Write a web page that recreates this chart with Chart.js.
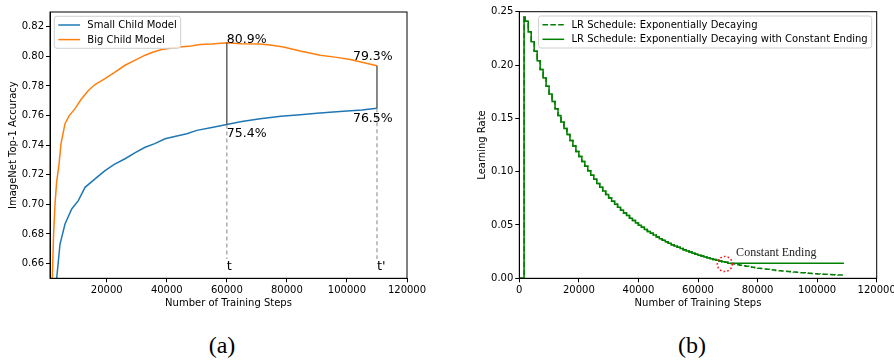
<!DOCTYPE html>
<html><head><meta charset="utf-8">
<script src="https://cdn.jsdelivr.net/npm/chart.js@4/dist/chart.umd.min.js"></script>
<style>
html,body{margin:0;padding:0;background:#fff;}
body{width:894px;height:361px;overflow:hidden;position:relative;}
#c1{position:absolute;left:0;top:0;}
#c2{position:absolute;left:450px;top:0;}
.cap{position:absolute;font-family:"Liberation Serif",serif;font-size:24px;line-height:24px;top:333px;transform:translateX(-50%);color:#000;}
</style></head><body>
<canvas id="c1" width="447" height="313"></canvas>
<canvas id="c2" width="460" height="313"></canvas>
<div class="cap" style="left:222px">(a)</div>
<div class="cap" style="left:692px">(b)</div>
<script>
// ---------- Panel (a) data ----------
const smallSteps = [2800,3330,4430,6100,8330,10530,12770,16100,19430,22500,26100,29500,32770,36000,39430,43000,46670,50000,55000,60000,65000,71100,78000,84430,90000,95430,100000,105000,110000];
const smallAcc   = [0.600,0.650,0.673,0.6867,0.6969,0.7025,0.7115,0.7172,0.7228,0.727,0.7308,0.735,0.7386,0.741,0.7443,0.746,0.7477,0.750,0.752,0.754,0.756,0.7579,0.7595,0.7606,0.7615,0.7624,0.763,0.7638,0.765];
const bigSteps = [1500,1870,2300,2770,3300,4100,4770,6100,7500,9430,11500,13870,16100,19430,22500,26100,29000,32770,35500,38330,41000,44430,48000,51100,55000,60000,65000,71100,75000,78870,84430,91100,96000,101100,105000,110000];
const bigAcc   = [0.600,0.650,0.680,0.700,0.715,0.727,0.741,0.7545,0.760,0.7647,0.771,0.777,0.781,0.785,0.789,0.794,0.797,0.8008,0.803,0.8047,0.8055,0.8064,0.807,0.808,0.8083,0.8092,0.8085,0.8083,0.8075,0.8064,0.8037,0.8008,0.7995,0.7979,0.796,0.7936];
const markSteps = [60000, 110000];
const markBig = [0.8092, 0.7936];
const markSmall = [0.754, 0.765];
const markBigText = ['80.9%', '79.3%'];
const markSmallText = ['75.4%', '76.5%'];
const markNames = ['t', "t'"];
const xTicksA = [20000, 40000, 60000, 80000, 100000, 120000];
const yTicksA = [0.66, 0.68, 0.70, 0.72, 0.74, 0.76, 0.78, 0.80, 0.82];

// ---------- Panel (b) data ----------
const lrSteps = [0,1600,2000,3000,4000,5000,6000,7000,8000,9000,10000,11000,12000,13000,14000,15000,16000,17000,18000,19000,20000,21000,22000,23000,24000,25000,26000,27000,28000,29000,30000,31000,32000,33000,34000,35000,36000,37000,38000,39000,40000,41000,42000,43000,44000,45000,46000,47000,48000,49000,50000,51000,52000,53000,54000,55000,56000,57000,58000,59000,60000,61000,62000,63000,64000,65000,66000,67000,68000,69000,70000,71000,72000,73000,74000,75000,76000,77000,78000,79000,80000,81000,82000,83000,84000,85000,86000,87000,88000,89000,90000,91000,92000,93000,94000,95000,96000,97000,98000,99000,100000,101000,102000,103000,104000,105000,106000,107000,108000,109000];
const lrExp = [0,0.245,0.2410,0.2312,0.2218,0.2128,0.2041,0.1958,0.1879,0.1802,0.1729,0.1659,0.1591,0.1527,0.1465,0.1405,0.1348,0.1293,0.1241,0.1190,0.1142,0.1095,0.1051,0.1008,0.0967,0.0928,0.0890,0.0854,0.0819,0.0786,0.0754,0.0723,0.0694,0.0666,0.0639,0.0613,0.0588,0.0564,0.0541,0.0519,0.0498,0.0478,0.0458,0.0440,0.0422,0.0405,0.0388,0.0372,0.0357,0.0343,0.0329,0.0315,0.0303,0.0290,0.0279,0.0267,0.0256,0.0246,0.0236,0.0226,0.0217,0.0208,0.0200,0.0192,0.0184,0.0176,0.0169,0.0162,0.0156,0.0150,0.0144,0.0138,0.0133,0.0127,0.0122,0.0117,0.0112,0.0108,0.0103,0.0099,0.0095,0.0091,0.0088,0.0084,0.0081,0.0077,0.0074,0.0071,0.0068,0.0066,0.0063,0.0060,0.0058,0.0056,0.0053,0.0051,0.0049,0.0047,0.0045,0.0043,0.0041,0.0040,0.0038,0.0037,0.0035,0.0034,0.0032,0.0031,0.0030,0.0029];
const constEndStep = 70000;
const constEndLR = 0.0140;
const xTicksB = [0, 20000, 40000, 60000, 80000, 100000, 120000];
const yTicksB = [0.00, 0.05, 0.10, 0.15, 0.20, 0.25];

const seriesNamesA = ['Small Child Model', 'Big Child Model'];
const seriesNamesB = ['LR Schedule: Exponentially Decaying', 'LR Schedule: Exponentially Decaying with Constant Ending'];

// ---------- helpers ----------
const FONT = '"DejaVu Sans", sans-serif';
function axis(min, max, ticksArr, fmt, title, fitFn) {
  return {
    type: 'linear', min, max,
    afterBuildTicks: s => { s.ticks = ticksArr.map(v => ({value: v})); },
    afterFit: fitFn,
    ticks: {callback: fmt, color: '#000', font: {family: FONT, size: 10}, padding: 2, maxRotation: 0, autoSkip: false},
    grid: {drawOnChartArea: false, drawTicks: true, tickLength: 4, color: '#000', lineWidth: 1},
    border: {display: true, color: '#000', width: 1},
    title: {display: true, text: title, color: '#000', font: {family: FONT, size: 10}, padding: {top: 4, bottom: 4}}
  };
}
function drawFrame(chart) {
  const {ctx, chartArea: a} = chart;
  ctx.save(); ctx.strokeStyle = '#000'; ctx.lineWidth = 1;
  ctx.strokeRect(a.left, a.top, a.right - a.left, a.bottom - a.top);
  ctx.restore();
}
function drawLegend(chart, names, styles, anchor) {
  const {ctx, chartArea: a} = chart;
  ctx.save();
  ctx.font = '10px ' + FONT;
  const tw = Math.max(...names.map(n => ctx.measureText(n).width));
  const w = 4 + 21.7 + 7.3 + tw + 4, h = 32;
  const x = anchor === 'left' ? a.left + 4.3 : a.right - 5 - w;
  const y = a.top + 4.3;
  ctx.beginPath();
  ctx.roundRect(x, y, w, h, 2.5);
  ctx.fillStyle = 'rgba(255,255,255,0.8)'; ctx.fill();
  ctx.strokeStyle = '#d0d0d0'; ctx.lineWidth = 1; ctx.stroke();
  names.forEach((n, i) => {
    const cy = y + 8.7 + i * 14.6;
    ctx.beginPath();
    ctx.setLineDash(styles[i].dash || []);
    ctx.strokeStyle = styles[i].color; ctx.lineWidth = 1.5;
    ctx.moveTo(x + 4, cy); ctx.lineTo(x + 25.7, cy); ctx.stroke();
    ctx.setLineDash([]);
    ctx.fillStyle = '#000'; ctx.textBaseline = 'middle'; ctx.textAlign = 'left';
    ctx.fillText(n, x + 33, cy + 0.5);
  });
  ctx.restore();
}

// ---------- Chart (a) ----------
const annA = {
  topLabel: [{x: 60000, y: 0.809, align: 'left'}, {x: 102000, y: 0.7975, align: 'left'}],
  botLabel: [{x: 60000, y: 0.7454, align: 'left'}, {x: 102000, y: 0.7554, align: 'left'}],
  dashBottom: 0.663,
  nameY: 0.6555
};
const pluginA = {
  id: 'annA',
  afterDatasetsDraw(chart) {
    const {ctx, scales: {x, y}} = chart;
    ctx.save();
    markSteps.forEach((s, i) => {
      const px = x.getPixelForValue(s);
      // dashed drop line
      ctx.beginPath(); ctx.setLineDash([4, 3]);
      ctx.strokeStyle = '#9a9a9a'; ctx.lineWidth = 1.2;
      ctx.moveTo(px, y.getPixelForValue(markSmall[i])); ctx.lineTo(px, y.getPixelForValue(annA.dashBottom)); ctx.stroke();
      ctx.setLineDash([]);
      // solid gap line
      ctx.beginPath(); ctx.strokeStyle = '#3a3a3a'; ctx.lineWidth = 1.2;
      ctx.moveTo(px, y.getPixelForValue(markSmall[i])); ctx.lineTo(px, y.getPixelForValue(markBig[i])); ctx.stroke();
      ctx.fillStyle = '#000'; ctx.textBaseline = 'alphabetic'; ctx.textAlign = 'left';
      ctx.font = '12.5px ' + FONT;
      ctx.fillText(markBigText[i], x.getPixelForValue(annA.topLabel[i].x), y.getPixelForValue(annA.topLabel[i].y));
      ctx.fillText(markSmallText[i], x.getPixelForValue(annA.botLabel[i].x), y.getPixelForValue(annA.botLabel[i].y));
      ctx.font = '13px ' + FONT;
      ctx.fillText(markNames[i], px, y.getPixelForValue(annA.nameY));
    });
    ctx.restore();
    drawFrame(chart);
    drawLegend(chart, seriesNamesA, [{color: '#1f77b4'}, {color: '#ff7f0e'}], 'left');
  }
};
new Chart(document.getElementById('c1'), {
  type: 'line',
  data: {datasets: [
    {label: seriesNamesA[0], data: smallSteps.map((s, i) => ({x: s, y: smallAcc[i]})), borderColor: '#1f77b4', borderWidth: 1.5, pointRadius: 0, fill: false, tension: 0, clip: 0},
    {label: seriesNamesA[1], data: bigSteps.map((s, i) => ({x: s, y: bigAcc[i]})), borderColor: '#ff7f0e', borderWidth: 1.5, pointRadius: 0, fill: false, tension: 0, clip: 0}
  ]},
  options: {
    responsive: false, animation: false, devicePixelRatio: 1,
    layout: {padding: {left: 3, top: 12, right: 40, bottom: 0}},
    plugins: {legend: {display: false}, tooltip: {enabled: false}},
    scales: {
      x: axis(1100, 120000, xTicksA, v => String(v), 'Number of Training Steps', s => { s.height = 34.7; }),
      y: axis(0.65, 0.83, yTicksA, v => v.toFixed(2), 'ImageNet Top-1 Accuracy', s => { s.width = 47; })
    }
  },
  plugins: [pluginA]
});

// ---------- Chart (b) ----------
const annB = {text: 'Constant Ending', textX: 72800, textY: 0.0205, circleX: 69000, circleY: 0.0134, circleR: 7.5};
const pluginB = {
  id: 'annB',
  afterDatasetsDraw(chart) {
    const {ctx, scales: {x, y}} = chart;
    ctx.save();
    ctx.beginPath(); ctx.setLineDash([1.6, 2.2]);
    ctx.strokeStyle = '#e8191a'; ctx.lineWidth = 1.6;
    ctx.arc(x.getPixelForValue(annB.circleX), y.getPixelForValue(annB.circleY), annB.circleR, 0, Math.PI * 2);
    ctx.stroke(); ctx.setLineDash([]);
    ctx.fillStyle = '#222'; ctx.font = '12px "Liberation Serif", serif';
    ctx.textAlign = 'left'; ctx.textBaseline = 'alphabetic';
    ctx.fillText(annB.text, x.getPixelForValue(annB.textX), y.getPixelForValue(annB.textY));
    ctx.restore();
    drawFrame(chart);
    drawLegend(chart, seriesNamesB, [{color: '#008000', dash: [5.5, 2.4]}, {color: '#008000'}], 'right');
  }
};
new Chart(document.getElementById('c2'), {
  type: 'line',
  data: {datasets: [
    {label: seriesNamesB[0], data: lrSteps.map((s, i) => ({x: s, y: lrExp[i]})), borderColor: '#008000', borderWidth: 1.5, borderDash: [5.5, 2.4], stepped: true, pointRadius: 0, fill: false, order: 1, clip: 0},
    {label: seriesNamesB[1], data: lrSteps.map((s, i) => ({x: s, y: s < constEndStep ? lrExp[i] : constEndLR})), borderColor: '#008000', borderWidth: 1.5, stepped: true, pointRadius: 0, fill: false, order: 0, clip: 0}
  ]},
  options: {
    responsive: false, animation: false, devicePixelRatio: 1,
    layout: {padding: {left: 22, top: 11.7, right: 33.3, bottom: 0}},
    plugins: {legend: {display: false}, tooltip: {enabled: false}},
    scales: {
      x: axis(0, 120000, xTicksB, v => String(v), 'Number of Training Steps', s => { s.height = 34.7; }),
      y: axis(0, 0.25, yTicksB, v => v.toFixed(2), 'Learning Rate', s => { s.width = 47.3; })
    }
  },
  plugins: [pluginB]
});
</script>
</body></html>
